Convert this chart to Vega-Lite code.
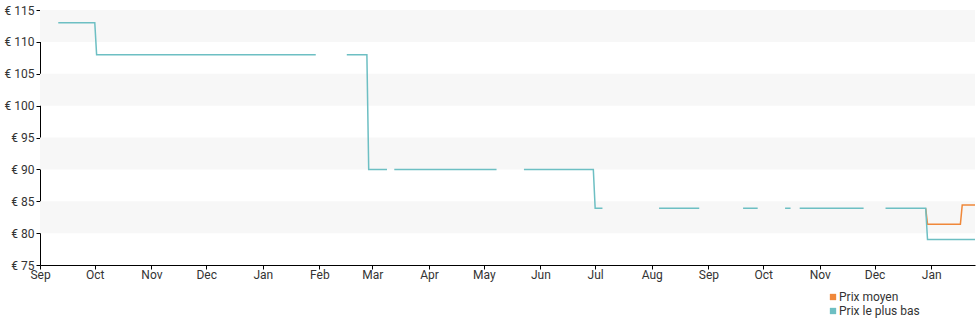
{
  "$schema": "https://vega.github.io/schema/vega-lite/v6.json",
  "width": 935,
  "height": 255,
  "autosize": {"type": "none"},
  "padding": {"left": 40, "top": 10, "right": 5, "bottom": 60},
  "background": "white",
  "config": {
    "view": {"stroke": null},
    "font": "Roboto",
    "axis": {"labelFont": "Roboto", "labelFontSize": 12, "labelColor": "#333333", "domainColor": "#000000", "tickColor": "#000000", "grid": false, "title": null},
    "axisY": {"values": [75, 80, 85, 90, 95, 100, 105, 110, 115], "tickCount": 8, "labelExpr": "'€ ' + datum.value", "tickSize": 4, "labelPadding": 2, "labelFlush": false, "labelOverlap": false}
  },
  "datasets": {
    "bands": [
      {"lo": 110, "hi": 115},
      {"lo": 100, "hi": 105},
      {"lo": 90, "hi": 95},
      {"lo": 80, "hi": 85}
    ],
    "prices": [
      {"date": "2023-09-11", "price": 113, "series": "Prix le plus bas"},
      {"date": "2023-10-01", "price": 113, "series": "Prix le plus bas"},
      {"date": "2023-10-02", "price": 108, "series": "Prix le plus bas"},
      {"date": "2024-01-30", "price": 108, "series": "Prix le plus bas"},
      {"date": "2024-01-31", "price": null, "series": "Prix le plus bas"},
      {"date": "2024-02-16", "price": 108, "series": "Prix le plus bas"},
      {"date": "2024-02-27", "price": 108, "series": "Prix le plus bas"},
      {"date": "2024-02-28", "price": 90, "series": "Prix le plus bas"},
      {"date": "2024-03-09", "price": 90, "series": "Prix le plus bas"},
      {"date": "2024-03-10", "price": null, "series": "Prix le plus bas"},
      {"date": "2024-03-13", "price": 90, "series": "Prix le plus bas"},
      {"date": "2024-05-08", "price": 90, "series": "Prix le plus bas"},
      {"date": "2024-05-09", "price": null, "series": "Prix le plus bas"},
      {"date": "2024-05-23", "price": 90, "series": "Prix le plus bas"},
      {"date": "2024-06-30", "price": 90, "series": "Prix le plus bas"},
      {"date": "2024-07-01", "price": 83.9, "series": "Prix le plus bas"},
      {"date": "2024-07-05", "price": 83.9, "series": "Prix le plus bas"},
      {"date": "2024-07-06", "price": null, "series": "Prix le plus bas"},
      {"date": "2024-08-05", "price": 83.9, "series": "Prix le plus bas"},
      {"date": "2024-08-27", "price": 83.9, "series": "Prix le plus bas"},
      {"date": "2024-08-28", "price": null, "series": "Prix le plus bas"},
      {"date": "2024-09-20", "price": 83.9, "series": "Prix le plus bas"},
      {"date": "2024-09-28", "price": 83.9, "series": "Prix le plus bas"},
      {"date": "2024-09-29", "price": null, "series": "Prix le plus bas"},
      {"date": "2024-10-13", "price": 83.9, "series": "Prix le plus bas"},
      {"date": "2024-10-16", "price": 83.9, "series": "Prix le plus bas"},
      {"date": "2024-10-17", "price": null, "series": "Prix le plus bas"},
      {"date": "2024-10-21", "price": 83.9, "series": "Prix le plus bas"},
      {"date": "2024-11-25", "price": 83.9, "series": "Prix le plus bas"},
      {"date": "2024-11-26", "price": null, "series": "Prix le plus bas"},
      {"date": "2024-12-07", "price": 83.9, "series": "Prix le plus bas"},
      {"date": "2024-12-29", "price": 83.9, "series": "Prix le plus bas"},
      {"date": "2024-12-30", "price": 79, "series": "Prix le plus bas"},
      {"date": "2025-01-25", "price": 79, "series": "Prix le plus bas"},
      {"date": "2024-12-29", "price": 83.9, "series": "Prix moyen"},
      {"date": "2024-12-30", "price": 81.4, "series": "Prix moyen"},
      {"date": "2025-01-17", "price": 81.4, "series": "Prix moyen"},
      {"date": "2025-01-18", "price": 84.4, "series": "Prix moyen"},
      {"date": "2025-01-25", "price": 84.4, "series": "Prix moyen"}
    ]
  },
  "layer": [
    {
      "data": {"name": "bands"},
      "mark": {"type": "rect", "color": "#f7f7f7"},
      "encoding": {
        "y": {"field": "hi", "type": "quantitative",
          "scale": {"domain": [75, 115], "nice": false, "zero": false}
        },
        "y2": {"field": "lo"}
      }
    },
    {
      "data": {"name": "prices"},
      "transform": [{"filter": "datum.series === 'Prix moyen'"}],
      "mark": {"type": "line", "strokeWidth": 1.5, "invalid": "break-paths-show-domains"},
      "encoding": {
        "x": {"field": "date", "type": "temporal",
          "scale": {"domain": ["2023-09-01T00:00:00", "2025-01-25T00:00:00"]},
          "axis": {"format": "%b", "tickCount": {"interval": "month", "step": 1}, "labelPadding": 0, "tickSize": 4, "labelFlush": false, "labelOverlap": false}
        },
        "y": {"field": "price", "type": "quantitative"},
        "color": {"field": "series", "type": "nominal",
          "scale": {"domain": ["Prix moyen", "Prix le plus bas"], "range": ["#f0883a", "#6dbfc3"]},
          "legend": {"title": null, "orient": "none", "legendX": 787, "legendY": 281, "direction": "vertical", "symbolType": "square", "symbolSize": 40, "labelFont": "Roboto", "labelFontSize": 12, "labelColor": "#333333", "rowPadding": 2, "labelOffset": 0,
            "encode": {"symbols": {"update": {"fill": {"scale": "color", "field": "value"}, "stroke": {"value": "transparent"}, "strokeWidth": {"value": 0}}}}
          }
        }
      }
    },
    {
      "data": {"name": "prices"},
      "transform": [{"filter": "datum.series === 'Prix le plus bas'"}],
      "mark": {"type": "line", "strokeWidth": 1.5, "invalid": "break-paths-show-domains"},
      "encoding": {
        "x": {"field": "date", "type": "temporal"},
        "y": {"field": "price", "type": "quantitative"},
        "color": {"field": "series", "type": "nominal"}
      }
    }
  ]
}
